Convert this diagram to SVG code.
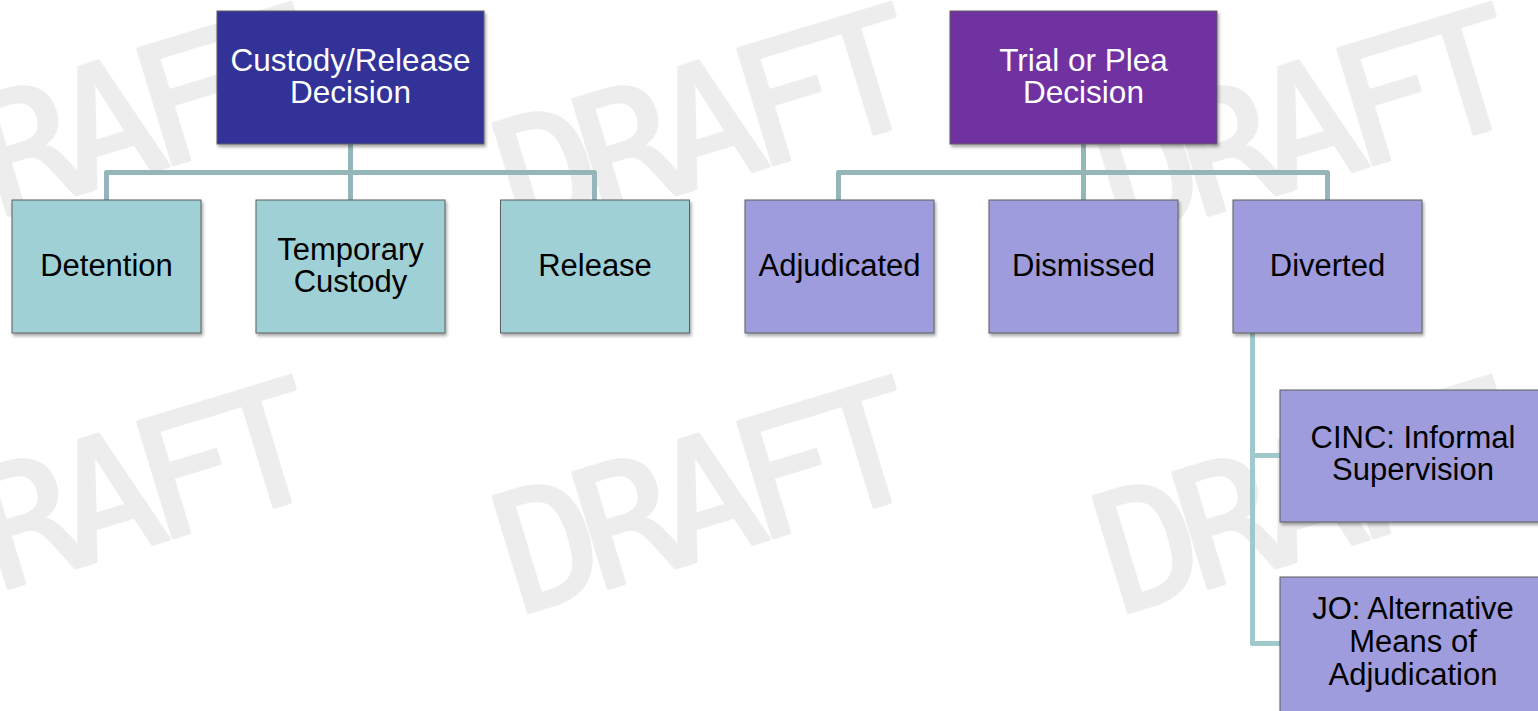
<svg xmlns="http://www.w3.org/2000/svg" width="1538" height="711" viewBox="0 0 1538 711">
  <defs>
    <filter id="shadow" x="-10%" y="-10%" width="130%" height="130%">
      <feDropShadow dx="1.5" dy="2.5" stdDeviation="1.8" flood-color="#000" flood-opacity="0.35"/>
    </filter>
  </defs>
  <style>
    .wm { font-family: "DejaVu Sans Mono", "Liberation Mono", monospace; font-weight: normal; font-size: 165px; fill: #ededed; stroke: #ededed; stroke-width: 4; stroke-linejoin: round; stroke-linecap: round; }
    .box { stroke: #5e5e5e; stroke-width: 1; filter: url(#shadow); }
    .top1 { fill: #333399; }
    .top2 { fill: #7030A0; }
    .teal { fill: #9FD0D5; }
    .lav { fill: #9E9CDD; }
    .lbl { font-family: "Liberation Sans", Arial, sans-serif; font-size: 31px; text-anchor: middle; fill: #000; }
    .lblw { font-family: "Liberation Sans", Arial, sans-serif; font-size: 31.5px; text-anchor: middle; fill: #fff; }
    .con { fill: none; stroke: #95B6B8; stroke-width: 5; stroke-linejoin: round; }
    .con2 { fill: none; stroke: #A0C9CB; stroke-width: 5; stroke-linejoin: round; }
  </style>
  <rect width="1538" height="711" fill="#ffffff"/>
  <g id="watermarks">
    <g transform="translate(107,124) rotate(-17)"><text class="wm" x="-215" y="58" textLength="430" lengthAdjust="spacing">DRAFT</text></g>
    <g transform="translate(707,124) rotate(-17)"><text class="wm" x="-215" y="58" textLength="430" lengthAdjust="spacing">DRAFT</text></g>
    <g transform="translate(1307,124) rotate(-17)"><text class="wm" x="-215" y="58" textLength="430" lengthAdjust="spacing">DRAFT</text></g>
    <g transform="translate(107,497) rotate(-17)"><text class="wm" x="-215" y="58" textLength="430" lengthAdjust="spacing">DRAFT</text></g>
    <g transform="translate(707,497) rotate(-17)"><text class="wm" x="-215" y="58" textLength="430" lengthAdjust="spacing">DRAFT</text></g>
    <g transform="translate(1307,497) rotate(-17)"><text class="wm" x="-215" y="58" textLength="430" lengthAdjust="spacing">DRAFT</text></g>
  </g>
  <g id="connectors">
    <path class="con" d="M350.5,144 V200"/>
    <path class="con" d="M106.5,200 V172.5 H594.5 V200"/>
    <path class="con" d="M1083.5,144 V200"/>
    <path class="con" d="M838.5,200 V172.5 H1327.5 V200"/>
    <path class="con2" d="M1252.5,333 V643.5 H1280"/>
    <path class="con2" d="M1252.5,455.5 H1280"/>
  </g>
  <g id="custody-release">
    <rect class="box top1" x="217" y="11" width="267" height="133"/>
    <text class="lblw" x="350.5" y="71">Custody/Release</text>
    <text class="lblw" x="350.5" y="103">Decision</text>
  </g>
  <g id="trial-plea">
    <rect class="box top2" x="950" y="11" width="267" height="133"/>
    <text class="lblw" x="1083.5" y="71">Trial or Plea</text>
    <text class="lblw" x="1083.5" y="103">Decision</text>
  </g>
  <g id="detention">
    <rect class="box teal" x="12" y="200" width="189" height="133"/>
    <text class="lbl" x="106.5" y="276">Detention</text>
  </g>
  <g id="temporary-custody">
    <rect class="box teal" x="256" y="200" width="189" height="133"/>
    <text class="lbl" x="350.5" y="260">Temporary</text>
    <text class="lbl" x="350.5" y="292">Custody</text>
  </g>
  <g id="release">
    <rect class="box teal" x="500.5" y="200" width="189" height="133"/>
    <text class="lbl" x="595" y="276">Release</text>
  </g>
  <g id="adjudicated">
    <rect class="box lav" x="745" y="200" width="189" height="133"/>
    <text class="lbl" x="839.5" y="276">Adjudicated</text>
  </g>
  <g id="dismissed">
    <rect class="box lav" x="989" y="200" width="189" height="133"/>
    <text class="lbl" x="1083.5" y="276">Dismissed</text>
  </g>
  <g id="diverted">
    <rect class="box lav" x="1233" y="200" width="189" height="133"/>
    <text class="lbl" x="1327.5" y="276">Diverted</text>
  </g>
  <g id="cinc">
    <rect class="box lav" x="1280" y="390" width="266" height="132"/>
    <text class="lbl" x="1413" y="448">CINC: Informal</text>
    <text class="lbl" x="1413" y="480">Supervision</text>
  </g>
  <g id="jo">
    <rect class="box lav" x="1280" y="577" width="266" height="150"/>
    <text class="lbl" x="1413" y="619">JO: Alternative</text>
    <text class="lbl" x="1413" y="652">Means of</text>
    <text class="lbl" x="1413" y="685">Adjudication</text>
  </g>
</svg>
